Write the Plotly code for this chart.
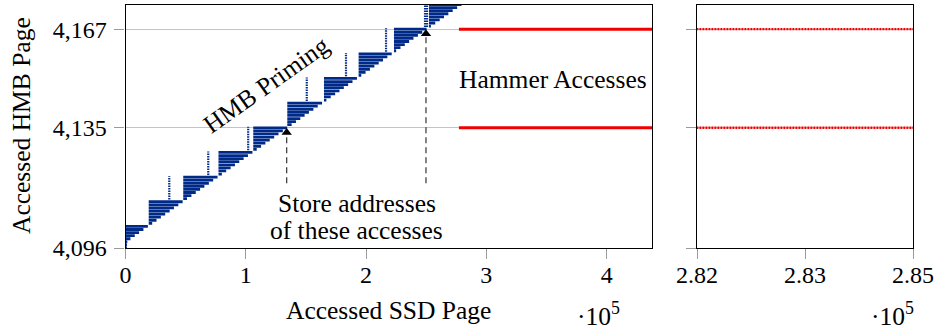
import plotly.graph_objects as go

# ---------------- data ----------------
# HMB priming: blocks of HMB pages, each accessed starting at an SSD page
block_x_start = [0, 19300, 48000, 77300, 106200, 134500, 165000, 193800, 223200, 252300]
block_page_lo = [4096, 4104, 4112, 4120, 4128, 4136, 4144, 4152, 4160, 4168]
block_page_hi = [4103, 4111, 4119, 4127, 4135, 4143, 4151, 4159, 4167, 4175]

# last SSD page at which each HMB page (4096 ... 4175) is accessed during priming
row_x_end = [
    1200, 1200, 1500, 4100, 7700, 11300, 14900, 18600,
    22200, 25800, 29400, 33000, 36700, 40300, 43900, 47500,
    51100, 54800, 58400, 62000, 65600, 69300, 72900, 76500,
    80100, 83700, 87400, 91000, 94600, 98200, 101800, 105500,
    109100, 112700, 116300, 119900, 123600, 127200, 130800, 134400,
    138100, 141700, 145300, 148900, 152500, 156200, 159800, 163400,
    167000, 170600, 174300, 177900, 181500, 185100, 188700, 192400,
    196000, 199600, 203200, 206900, 210500, 214100, 217700, 221300,
    225000, 228600, 232200, 235800, 239400, 243100, 246700, 250300,
    253900, 257500, 261200, 264800, 268400, 272000, 275700, 279300,
]

# early single-SSD-page accesses to the next block
spike_x = [36400, 68800, 102000, 150700, 183300, 216600, 249000, 250700]
spike_page_lo = [4112, 4120, 4128, 4144, 4152, 4160, 4168, 4168]
spike_page_hi = [4119, 4127, 4135, 4151, 4159, 4167, 4175, 4175]

# hammer accesses
hammer_pages = [4135, 4167]
hammer_x_start = 277200
hammer_x_end = 450000

# stored addresses (arrows)
arrow_x = [134000, 249800]
arrow_page = [4135, 4167]

y_tickvals = [4096, 4135, 4167]
y_ticktext = ["4,096", "4,135", "4,167"]
x_tickvals = [0, 100000, 200000, 300000, 400000]
x_ticktext = ["0", "1", "2", "3", "4"]
x2_tickvals = [282000, 283500, 285000]
x2_ticktext = ["2.82", "2.83", "2.85"]

# ---------------- figure ----------------
BLUE = "#002a88"
RED = "#f00000"
FONT = "Liberation Serif, DejaVu Serif, serif"
FS_TICK = 24
FS = 25.5

rx, ry = [], []
for bi in range(len(block_x_start)):
    for p in range(block_page_lo[bi], block_page_hi[bi] + 1):
        end = row_x_end[p - block_page_lo[0]]
        rx += [block_x_start[bi], end, None]
        ry += [p, p, None]

sx, sy = [], []
for i in range(len(spike_x)):
    sx += [spike_x[i], spike_x[i], None]
    sy += [spike_page_lo[i] - 0.3, spike_page_hi[i] + 0.3, None]

hx, hy = [], []
for p in hammer_pages:
    hx += [hammer_x_start, hammer_x_end, None]
    hy += [p, p, None]

fig = go.Figure()
fig.add_trace(go.Scatter(x=rx, y=ry, mode="lines", line=dict(color=BLUE, width=2.8),
                         hoverinfo="skip", showlegend=False, xaxis="x", yaxis="y"))
fig.add_trace(go.Scatter(x=sx, y=sy, mode="lines", line=dict(color=BLUE, width=2.2, dash="1.5px,1px"),
                         hoverinfo="skip", showlegend=False, xaxis="x", yaxis="y"))
fig.add_trace(go.Scatter(x=hx, y=hy, mode="lines", line=dict(color=RED, width=3),
                         hoverinfo="skip", showlegend=False, xaxis="x", yaxis="y"))
fig.add_trace(go.Scatter(x=hx, y=hy, mode="lines", line=dict(color=RED, width=2.4, dash="2px,1px"),
                         hoverinfo="skip", showlegend=False, xaxis="x2", yaxis="y2"))

W, H = 938, 331
ydom = [1 - 248 / H, 1 - 4.5 / H]
common_axis = dict(showline=True, linecolor="black", linewidth=1.1, mirror=True,
                   ticks="outside", ticklen=10, tickcolor="#9a9a9a", tickwidth=1,
                   zeroline=False, automargin=False,
                   tickfont=dict(family=FONT, size=FS_TICK, color="black"))

fig.update_layout(
    width=W, height=H,
    margin=dict(l=0, r=0, t=0, b=0, autoexpand=False),
    paper_bgcolor="white", plot_bgcolor="white",
    xaxis=dict(domain=[125.5 / W, 652 / W], range=[0, 437700], anchor="y",
               tickvals=x_tickvals, ticktext=x_ticktext, showgrid=False,
               ticklabelstandoff=-5, **common_axis),
    yaxis=dict(domain=ydom, range=[4096, 4175], anchor="x",
               tickvals=y_tickvals, ticktext=y_ticktext, showgrid=True,
               gridcolor="#c4c4c4", gridwidth=1, ticklabelstandoff=3, **common_axis),
    xaxis2=dict(domain=[697 / W, 913 / W], range=[282000, 285000], anchor="y2",
                tickvals=x2_tickvals, ticktext=x2_ticktext, showgrid=False,
                ticklabelstandoff=-5, **common_axis),
    yaxis2=dict(domain=ydom, range=[4096, 4175], anchor="x2", matches="y",
                tickvals=y_tickvals, showticklabels=False, showgrid=True,
                gridcolor="#c4c4c4", gridwidth=1, **common_axis),
)

# dashed lines with arrowheads
for ax_, ap in zip(arrow_x, arrow_page):
    fig.add_shape(type="line", xref="x", yref="y", x0=ax_, x1=ax_, y0=4117, y1=ap - 2,
                  line=dict(color="#333333", width=1.2, dash="6px,4px"))
fig.add_trace(go.Scatter(x=arrow_x, y=[p - 1.5 for p in arrow_page], mode="markers",
                         marker=dict(symbol="triangle-up", size=9, color="black"),
                         hoverinfo="skip", showlegend=False, xaxis="x", yaxis="y"))

tf = dict(family=FONT, size=FS, color="black")
fig.add_annotation(xref="x", yref="y", x=117600, y=4148.9, text="HMB Priming",
                   textangle=-35.4, showarrow=False, font=tf)
fig.add_annotation(xref="x", yref="y", x=355400, y=4150.8, text="Hammer Accesses",
                   showarrow=False, font=tf)
fig.add_annotation(xref="x", yref="y", x=192400, y=4110.6, text="Store addresses",
                   showarrow=False, font=tf)
fig.add_annotation(xref="x", yref="y", x=192400, y=4101.6, text="of these accesses",
                   showarrow=False, font=tf)
fig.add_annotation(xref="paper", yref="paper", x=22 / W, y=1 - 126 / H, text="Accessed HMB Page",
                   textangle=-90, showarrow=False, font=tf, xanchor="center", yanchor="middle")
fig.add_annotation(xref="paper", yref="paper", x=388.75 / W, y=1 - 310 / H, text="Accessed SSD Page",
                   showarrow=False, font=tf, xanchor="center", yanchor="middle")
for xc in [598, 892]:
    fig.add_annotation(xref="paper", yref="paper", x=xc / W, y=1 - 314 / H,
                       text="·10<sup>5</sup>", showarrow=False, font=tf,
                       xanchor="center", yanchor="middle")

fig.write_html("out.html", config={"displayModeBar": False},
               post_script="document.body.style.margin='0';document.body.style.overflow='hidden';")
